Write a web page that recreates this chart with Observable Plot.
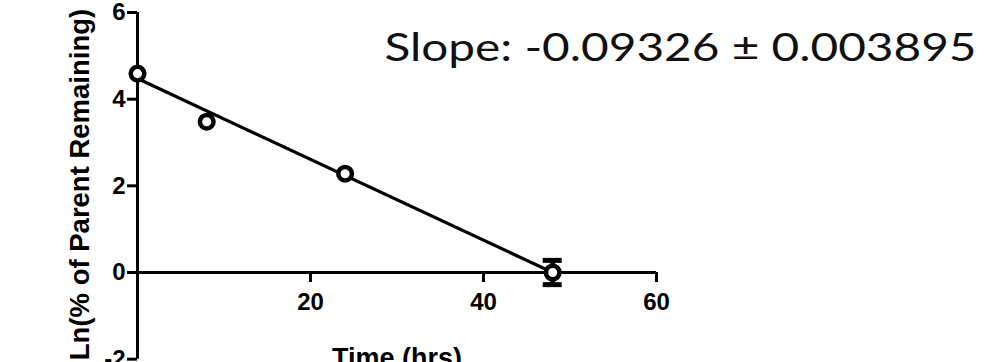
<!DOCTYPE html>
<html><head><meta charset="utf-8">
<script src="https://cdn.jsdelivr.net/npm/d3@7"></script>
<script src="https://cdn.jsdelivr.net/npm/@observablehq/plot@0.6"></script>
<style>
html,body{margin:0;padding:0;background:#fff;}
#chart{width:987px;height:362px;overflow:hidden;position:relative}
</style></head><body><div id="chart"></div>
<script>
const times = [0, 8, 24, 48];
const lnRemaining = [4.59, 3.48, 2.28, 0.0];
const errors = [0, 0, 0, 0.28];
const fitTimes = [0, 48];
const fitValues = [4.476, 0.0];
const xTicks = [20, 40, 60];
const yTicks = [-2, 0, 2, 4, 6];
const xLabel = "Time (hrs)";
const yLabel = "Ln(% of Parent Remaining)";
const slopeText = "Slope: -0.09326 \u00B1 0.003895";

const points = times.map((t, i) => ({t, v: lnRemaining[i], e: errors[i]}));
const withErr = points.filter(d => d.e > 0);
const fit = fitTimes.map((t, i) => ({t, v: fitValues[i]}));

const plot = Plot.plot({
  width: 987, height: 362,
  marginLeft: 137, marginRight: 331, marginTop: 12, marginBottom: 90,
  x: {domain: [0, d3.max(xTicks)]},
  y: {domain: [0, d3.max(yTicks)]},
  style: {fontFamily: "'Liberation Sans', Arial, sans-serif", color: "#000", background: "#fff", overflow: "visible"},
  marks: [
    Plot.ruleX([0], {y1: d3.min(yTicks), y2: d3.max(yTicks), strokeWidth: 3, stroke: "#000"}),
    Plot.ruleY([0], {x1: 0, x2: d3.max(xTicks), strokeWidth: 3, stroke: "#000"}),
    Plot.axisY({ticks: yTicks, tickFormat: d => String(d), tickSize: 10, tickPadding: 2, strokeWidth: 3, fontSize: 24, fontWeight: "bold", label: null}),
    Plot.axisX({ticks: xTicks, tickFormat: d => String(d), tickSize: 10, tickPadding: 10, strokeWidth: 3, fontSize: 24, fontWeight: "bold", label: null}),
    Plot.text([xLabel], {text: d => d, frameAnchor: "bottom", dy: 75, textAnchor: "middle", lineAnchor: "top", fontSize: 27, fontWeight: "bold", fill: "#000"}),
    Plot.text([yLabel], {text: d => d, frameAnchor: "left", dx: -57, dy: 42, rotate: -90, textAnchor: "middle", lineAnchor: "middle", fontSize: 27.5, fontWeight: "bold", fill: "#000"}),
    Plot.line(fit, {x: "t", y: "v", strokeWidth: 3.2, stroke: "#000"}),
    Plot.ruleX(withErr, {x: "t", y1: d => d.v - d.e, y2: d => d.v + d.e, strokeWidth: 5, stroke: "#000"}),
    Plot.ruleY(withErr, {x1: "t", x2: "t", y: d => d.v - d.e, insetLeft: -9.5, insetRight: -9.5, strokeWidth: 5, stroke: "#000"}),
    Plot.ruleY(withErr, {x1: "t", x2: "t", y: d => d.v + d.e, insetLeft: -9.5, insetRight: -9.5, strokeWidth: 5, stroke: "#000"}),
    Plot.dot(points, {x: "t", y: "v", r: 6.8, stroke: "#000", strokeWidth: 4.5, fill: "#fff"}),
    Plot.text([slopeText], {text: d => d, frameAnchor: "top-left", dx: 247, dy: 36, textAnchor: "start", lineAnchor: "middle", fontSize: 39, fontFamily: "Lato, 'Open Sans', sans-serif", fontWeight: "normal", fill: "#111"})
  ]
});
document.getElementById("chart").appendChild(plot);
plot.querySelectorAll("text").forEach(t => {
  if (t.textContent === slopeText) {
    t.setAttribute("textLength", "592");
    t.setAttribute("lengthAdjust", "spacingAndGlyphs");
  }
});
</script></body></html>
